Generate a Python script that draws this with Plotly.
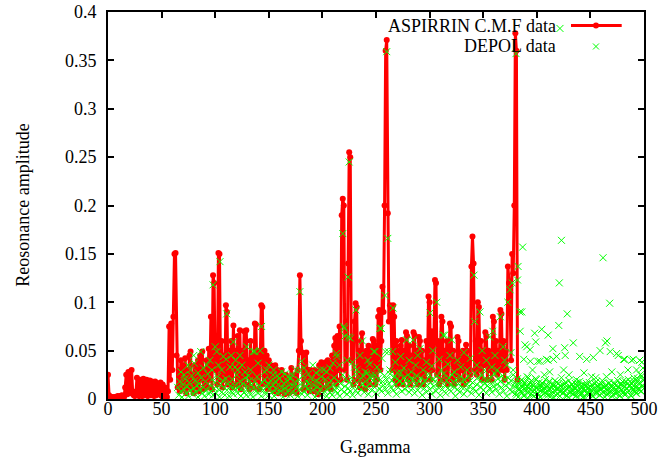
import plotly.graph_objects as go

# ---------------- data ----------------
red_x_start = 0
red_y = [
    0.025, 0.004, 0.002, 0.001, 0.002, 0.001, 0.002, 0.001, 0.002, 0.003,
    0.002, 0.003, 0.002, 0.004, 0.003, 0.002, 0.012, 0.025, 0.005, 0.028,
    0.01, 0.006, 0.03, 0.008, 0.004, 0.003, 0.005, 0.022, 0.004, 0.003,
    0.02, 0.005, 0.003, 0.021, 0.004, 0.006, 0.02, 0.003, 0.005, 0.019,
    0.004, 0.018, 0.006, 0.003, 0.018, 0.004, 0.016, 0.005, 0.012, 0.017,
    0.003, 0.015, 0.002, 0.012, 0.004, 0.002, 0.008, 0.075, 0.02, 0.078,
    0.03, 0.085, 0.15, 0.151, 0.045, 0.012, 0.03, 0.008, 0.04, 0.01,
    0.035, 0.015, 0.042, 0.006, 0.03, 0.012, 0.045, 0.049, 0.01, 0.025,
    0.006, 0.035, 0.03, 0.012, 0.04, 0.008, 0.045, 0.02, 0.049, 0.01,
    0.03, 0.015, 0.04, 0.012, 0.052, 0.02, 0.085, 0.01, 0.128, 0.12,
    0.03, 0.04, 0.015, 0.151, 0.15, 0.02, 0.06, 0.012, 0.045, 0.02,
    0.097, 0.09, 0.015, 0.05, 0.02, 0.06, 0.012, 0.076, 0.03, 0.05,
    0.015, 0.065, 0.02, 0.071, 0.01, 0.05, 0.02, 0.07, 0.015, 0.071,
    0.025, 0.04, 0.01, 0.06, 0.02, 0.045, 0.012, 0.078, 0.077, 0.02,
    0.05, 0.01, 0.04, 0.097, 0.095, 0.015, 0.05, 0.02, 0.045, 0.01,
    0.04, 0.015, 0.035, 0.01, 0.03, 0.008, 0.035, 0.01, 0.03, 0.006,
    0.025, 0.008, 0.03, 0.01, 0.02, 0.005, 0.025, 0.01, 0.022, 0.006,
    0.02, 0.032, 0.008, 0.02, 0.012, 0.025, 0.006, 0.03, 0.05, 0.128,
    0.06, 0.048, 0.01, 0.045, 0.02, 0.048, 0.012, 0.03, 0.008, 0.03,
    0.015, 0.025, 0.008, 0.03, 0.012, 0.028, 0.005, 0.035, 0.015, 0.038,
    0.01, 0.035, 0.02, 0.038, 0.012, 0.04, 0.015, 0.038, 0.01, 0.045,
    0.02, 0.055, 0.063, 0.015, 0.065, 0.03, 0.075, 0.02, 0.19, 0.207,
    0.2, 0.03, 0.08, 0.02, 0.14, 0.255, 0.25, 0.04, 0.06, 0.015,
    0.08, 0.099, 0.095, 0.02, 0.05, 0.012, 0.06, 0.068, 0.02, 0.045,
    0.01, 0.05, 0.02, 0.055, 0.015, 0.05, 0.025, 0.062, 0.06, 0.015,
    0.055, 0.02, 0.085, 0.092, 0.03, 0.06, 0.116, 0.09, 0.2, 0.36,
    0.371, 0.192, 0.08, 0.097, 0.09, 0.03, 0.097, 0.085, 0.02, 0.06,
    0.015, 0.05, 0.02, 0.055, 0.061, 0.015, 0.05, 0.025, 0.069, 0.065,
    0.02, 0.055, 0.015, 0.045, 0.025, 0.069, 0.066, 0.02, 0.05, 0.015,
    0.064, 0.06, 0.025, 0.05, 0.015, 0.04, 0.02, 0.06, 0.03, 0.106,
    0.1, 0.02, 0.07, 0.03, 0.06, 0.123, 0.12, 0.025, 0.06, 0.015,
    0.05, 0.085, 0.08, 0.02, 0.05, 0.025, 0.06, 0.015, 0.045, 0.078,
    0.075, 0.02, 0.05, 0.015, 0.04, 0.025, 0.064, 0.06, 0.02, 0.045,
    0.03, 0.05, 0.015, 0.04, 0.056, 0.05, 0.02, 0.04, 0.025, 0.137,
    0.168, 0.14, 0.03, 0.06, 0.025, 0.1, 0.095, 0.03, 0.06, 0.02,
    0.05, 0.035, 0.069, 0.065, 0.02, 0.05, 0.03, 0.045, 0.02, 0.085,
    0.08, 0.03, 0.06, 0.025, 0.05, 0.03, 0.092, 0.088, 0.03, 0.06,
    0.02, 0.05, 0.03, 0.137, 0.12, 0.11, 0.04, 0.15, 0.13, 0.2,
    0.378, 0.36, 0.02,
]

green_low_x_start = 65
green_low_y = [
    0.012, 0.004, 0.018, 0.008, 0.002, 0.015, 0.01, 0.021, 0.006, 0.013,
    0.003, 0.017, 0.009, 0.024, 0.005, 0.011, 0.019, 0.007, 0.014, 0.002,
    0.016, 0.01, 0.022, 0.006, 0.012, 0.003, 0.018, 0.009, 0.026, 0.005,
    0.014, 0.008, 0.02, 0.004, 0.011, 0.017, 0.006, 0.023, 0.01, 0.002,
    0.015, 0.007, 0.019, 0.012, 0.004, 0.021, 0.009, 0.016, 0.003, 0.013,
    0.008, 0.02, 0.005, 0.014, 0.01, 0.025, 0.006, 0.012, 0.018, 0.003,
    0.011, 0.016, 0.007, 0.022, 0.004, 0.013, 0.009, 0.019, 0.005, 0.015,
    0.002, 0.012, 0.018, 0.008, 0.023, 0.006, 0.014, 0.01, 0.003, 0.017,
    0.009, 0.02, 0.005, 0.013, 0.016, 0.004, 0.011, 0.019, 0.007, 0.014,
    0.003, 0.018, 0.01, 0.006, 0.015, 0.021, 0.008, 0.012, 0.002, 0.016,
    0.011, 0.005, 0.019, 0.009, 0.014, 0.004, 0.022, 0.007, 0.013, 0.017,
    0.006, 0.012, 0.003, 0.02, 0.01, 0.015, 0.005, 0.024, 0.008, 0.013,
    0.018, 0.004, 0.011, 0.016, 0.007, 0.021, 0.009, 0.014, 0.002, 0.019,
    0.012, 0.006, 0.017, 0.01, 0.023, 0.005, 0.013, 0.008, 0.02, 0.003,
    0.015, 0.011, 0.007, 0.019, 0.004, 0.014, 0.022, 0.009, 0.012, 0.006,
    0.018, 0.003, 0.016, 0.01, 0.025, 0.007, 0.013, 0.02, 0.005, 0.011,
    0.017, 0.008, 0.022, 0.004, 0.014, 0.019, 0.009, 0.026, 0.006, 0.012,
    0.02, 0.01, 0.015, 0.024, 0.007, 0.018, 0.012, 0.027, 0.005, 0.016,
    0.022, 0.009, 0.019, 0.013, 0.025, 0.006, 0.017, 0.021, 0.011, 0.028,
    0.008, 0.018, 0.014, 0.024, 0.01, 0.02, 0.006, 0.016, 0.026, 0.012,
    0.019, 0.009, 0.023, 0.015, 0.005, 0.021, 0.012, 0.018, 0.027, 0.008,
    0.016, 0.022, 0.01, 0.019, 0.013, 0.025, 0.007, 0.017, 0.021, 0.011,
    0.02, 0.006, 0.015, 0.024, 0.009, 0.018, 0.013, 0.022, 0.004, 0.016,
    0.011, 0.019, 0.007, 0.014, 0.023, 0.01, 0.017, 0.005, 0.021, 0.013,
    0.018, 0.008, 0.024, 0.012, 0.016, 0.004, 0.02, 0.01, 0.026, 0.014,
    0.006, 0.019, 0.011, 0.022, 0.015, 0.008, 0.025, 0.013, 0.017, 0.003,
    0.021, 0.01, 0.016, 0.007, 0.023, 0.012, 0.018, 0.005, 0.02, 0.014,
    0.009, 0.024, 0.013, 0.019, 0.006, 0.017, 0.011, 0.027, 0.008, 0.015,
    0.022, 0.004, 0.018, 0.012, 0.025, 0.009, 0.016, 0.02, 0.006, 0.014,
    0.019, 0.011, 0.023, 0.007, 0.017, 0.013, 0.026, 0.01, 0.015, 0.021,
    0.005, 0.018, 0.012, 0.024, 0.008, 0.02, 0.014, 0.003, 0.022, 0.016,
    0.01, 0.019, 0.007, 0.025, 0.013, 0.017, 0.004, 0.021, 0.011, 0.015,
    0.008, 0.02, 0.013, 0.003, 0.017, 0.011, 0.023, 0.006, 0.015, 0.01,
    0.019, 0.004, 0.014, 0.009, 0.021, 0.012, 0.006, 0.017, 0.002, 0.013,
    0.016, 0.008, 0.011, 0.02, 0.005, 0.014, 0.01, 0.018, 0.003, 0.012,
    0.007, 0.015, 0.019, 0.004, 0.011, 0.016, 0.008, 0.013, 0.022, 0.006,
    0.014, 0.009, 0.017, 0.003, 0.012, 0.019, 0.007, 0.01, 0.015, 0.005,
    0.011, 0.016, 0.004, 0.013, 0.008, 0.018, 0.006, 0.012, 0.002, 0.015,
    0.009, 0.014, 0.005, 0.011, 0.017, 0.007, 0.012, 0.003, 0.01, 0.016,
    0.006, 0.013, 0.009, 0.015, 0.004, 0.011, 0.019, 0.007, 0.012, 0.014,
    0.005, 0.01, 0.016, 0.008, 0.013, 0.003, 0.011, 0.017, 0.006, 0.014,
    0.009, 0.012, 0.004, 0.015, 0.01, 0.018, 0.007, 0.013, 0.005, 0.011,
    0.016, 0.008, 0.014, 0.003, 0.012, 0.019, 0.009, 0.015, 0.006, 0.021,
    0.011, 0.017, 0.008, 0.024, 0.013, 0.02,
]

# second, offset row of the dense low DEPOL cloud (x = 380.5 ... 499.5)
green_low2_x_start = 380.5
green_low2_y = [
    0.006, 0.014, 0.002, 0.01, 0.018, 0.007, 0.012, 0.004, 0.016, 0.009,
    0.013, 0.001, 0.011, 0.017, 0.005, 0.015, 0.008, 0.003, 0.012, 0.02,
    0.006, 0.01, 0.014, 0.002, 0.009, 0.016, 0.005, 0.011, 0.007, 0.013,
    0.004, 0.018, 0.01, 0.006, 0.015, 0.002, 0.012, 0.008, 0.017, 0.005,
    0.011, 0.003, 0.014, 0.009, 0.006, 0.016, 0.012, 0.004, 0.01, 0.002,
    0.013, 0.007, 0.015, 0.005, 0.009, 0.012, 0.003, 0.017, 0.008, 0.011,
    0.004, 0.014, 0.006, 0.01, 0.002, 0.013, 0.016, 0.007, 0.012, 0.005,
    0.009, 0.015, 0.003, 0.011, 0.008, 0.018, 0.006, 0.013, 0.004, 0.01,
    0.016, 0.007, 0.012, 0.002, 0.014, 0.009, 0.005, 0.017, 0.011, 0.008,
    0.013, 0.004, 0.015, 0.01, 0.006, 0.019, 0.012, 0.003, 0.016, 0.009,
    0.014, 0.005, 0.018, 0.011, 0.007, 0.02, 0.013, 0.004, 0.016, 0.009,
    0.022, 0.012, 0.006, 0.018, 0.01, 0.015, 0.025, 0.008, 0.014, 0.019,
]

green_mid_x = [
    68, 71, 74.6, 77, 80, 80.5, 84, 86.5, 89, 92, 95, 97, 98, 100, 101.5, 103,
    104.5, 106, 107.6, 110.2, 110.7, 113.8, 115, 117, 118.5, 119, 121, 123,
    125, 127.8, 129.4, 131, 133, 135.5, 137, 140, 142, 143.3, 146, 148, 150,
    154, 154.5, 158, 162, 165, 168, 172, 175, 178.7, 179, 180.6, 183, 187,
    191, 194, 198, 201, 204, 207, 210, 213, 213.5, 216, 219, 220, 220.5, 221,
    223, 224, 224.3, 225, 226, 228, 230, 231.3, 232, 235, 237.3, 240, 242.5,
    244, 246, 248, 249, 251, 253.7, 255, 255.5, 258.4, 258.6, 260, 261,
    261.5, 263, 265.6, 266, 268, 270, 273, 276, 278.6, 281, 283, 284.7, 287,
    289, 291, 294, 297, 299, 300.4, 302, 303, 306.6, 309, 311, 312.7, 314,
    317, 319, 320.6, 323, 326, 329, 332, 335, 338, 341.4, 342, 344, 347, 349,
    351, 353, 356, 358, 359, 361, 363, 366, 368.6, 370, 372, 373, 375, 376,
    377, 378, 380.6, 382, 382.5,
    384.3, 384.5, 386, 386.8, 387.8, 389, 390.6, 392, 393.7, 394, 396, 398,
    399, 401, 403, 404.6, 407, 409, 410.5, 410.6, 412, 415, 415.5, 418.5,
    420.5, 421, 421.6, 423, 425, 426, 426.5, 428.4, 430, 434, 437, 440, 444,
    446.5, 451, 452.7, 455, 459, 461.8, 464, 465, 465.5, 468, 468.5, 470,
    474.5, 476, 478, 481, 482, 485, 488.5, 490, 493, 496, 498, 499,
]
green_mid_y = [
    0.028, 0.025, 0.035, 0.03, 0.045, 0.037, 0.027, 0.049, 0.032, 0.035, 0.04,
    0.03, 0.118, 0.054, 0.049, 0.035, 0.142, 0.03, 0.044, 0.041, 0.088, 0.033,
    0.045, 0.059, 0.033, 0.04, 0.03, 0.045, 0.035, 0.028, 0.054, 0.024, 0.03,
    0.049, 0.049, 0.037, 0.05, 0.075, 0.028, 0.03, 0.035, 0.025, 0.03, 0.024,
    0.028, 0.026, 0.023, 0.025, 0.03, 0.03, 0.111, 0.039, 0.032, 0.026, 0.035,
    0.027, 0.03, 0.03, 0.028, 0.032, 0.037, 0.047, 0.044, 0.035, 0.171, 0.075,
    0.073, 0.065, 0.04, 0.126, 0.064, 0.245, 0.063, 0.038, 0.033, 0.092, 0.03,
    0.045, 0.06, 0.028, 0.04, 0.036, 0.025, 0.049, 0.049, 0.033, 0.073, 0.073,
    0.042, 0.107, 0.049, 0.359, 0.166, 0.049, 0.03, 0.049, 0.094, 0.038,
    0.027, 0.044, 0.032, 0.061, 0.04, 0.028, 0.061, 0.035, 0.045, 0.052, 0.03,
    0.038, 0.026, 0.089, 0.034, 0.05, 0.1, 0.041, 0.03, 0.066, 0.066, 0.036,
    0.045, 0.061, 0.028, 0.04, 0.033, 0.048, 0.03, 0.042, 0.128, 0.08, 0.035,
    0.09, 0.05, 0.03, 0.04, 0.064, 0.033, 0.07, 0.045, 0.03, 0.085, 0.054,
    0.04, 0.035, 0.1, 0.113, 0.048, 0.12, 0.03, 0.357, 0.123, 0.137,
    0.09, 0.07, 0.09, 0.157, 0.041, 0.056, 0.054, 0.022, 0.051, 0.039, 0.03,
    0.068, 0.059, 0.039, 0.039, 0.072, 0.025, 0.041, 0.04, 0.066, 0.028,
    0.052, 0.041, 0.044, 0.076, 0.12, 0.383, 0.164, 0.03, 0.053, 0.045, 0.088,
    0.025, 0.058, 0.02, 0.044, 0.027, 0.041, 0.023, 0.043, 0.022, 0.05, 0.146,
    0.058, 0.023, 0.06, 0.099, 0.049, 0.028, 0.047, 0.045, 0.025, 0.041,
    0.041, 0.03, 0.04, 0.041, 0.03, 0.04, 0.038, 0.032,
]

y_tick_vals = [0, 0.05, 0.1, 0.15, 0.2, 0.25, 0.3, 0.35, 0.4]
y_tick_text = ["0", "0.05", "0.1", "0.15", "0.2", "0.25", "0.3", "0.35", "0.4"]
x_tick_vals = [0, 50, 100, 150, 200, 250, 300, 350, 400, 450, 500]

series_names = ["ASPIRRIN C.M.F data", "DEPOL data"]
RED = "#ff0000"
GREEN = "#00ff00"
FONT = "Liberation Serif, Times New Roman, serif"
FS = 18

red_x = [red_x_start + i for i in range(len(red_y))]
green_low_x = [green_low_x_start + i for i in range(len(green_low_y))]
green_low2_x = [green_low2_x_start + i for i in range(len(green_low2_y))]

fig = go.Figure()
fig.add_trace(go.Scatter(
    x=red_x, y=red_y, mode="lines+markers", name=series_names[0],
    line=dict(color=RED, width=3),
    marker=dict(color=RED, size=6, symbol="circle"),
    showlegend=False,
))
fig.add_trace(go.Scatter(
    x=green_low_x + green_low2_x + green_mid_x,
    y=green_low_y + green_low2_y + green_mid_y, mode="markers",
    name=series_names[1],
    marker=dict(symbol="x-thin", size=7, color=GREEN,
                line=dict(color=GREEN, width=1)),
    showlegend=False,
))

axis_common = dict(
    showline=True, linecolor="black", linewidth=2, mirror="allticks",
    ticks="inside", ticklen=6, tickwidth=1.5, tickcolor="black",
    showgrid=False, zeroline=False, automargin=False,
    tickfont=dict(family=FONT, size=FS, color="black"),
)

fig.update_layout(
    width=661, height=464,
    margin=dict(l=108, r=17, t=12, b=65, autoexpand=False),
    paper_bgcolor="white", plot_bgcolor="white",
    xaxis=dict(range=[0, 500], tickvals=x_tick_vals, ticklabelstandoff=-8,
               **axis_common),
    yaxis=dict(range=[0, 0.4], tickvals=y_tick_vals, ticktext=y_tick_text,
               ticklabelstandoff=6, **axis_common),
    font=dict(family=FONT, size=FS, color="black"),
)

# axis titles
fig.add_annotation(text="G.gamma", xref="paper", yref="paper", x=0.498, y=-0.124,
                   xanchor="center", yanchor="middle", showarrow=False,
                   font=dict(family=FONT, size=FS))
fig.add_annotation(text="Reosonance amplitude", xref="paper", yref="paper",
                   x=-0.160, y=0.5, xanchor="center", yanchor="middle",
                   textangle=-90, showarrow=False, font=dict(family=FONT, size=FS))

# gnuplot-style key (text right aligned, sample on the right)
key_text_x = 0.838
key_rows_y = [0.9651, 0.9109]
for name, ky in zip(series_names, key_rows_y):
    fig.add_annotation(text=name, xref="paper", yref="paper",
                       x=key_text_x, y=ky, xanchor="right", yanchor="middle",
                       height=20, borderpad=0,
                       showarrow=False, font=dict(family=FONT, size=FS))
fig.add_shape(type="line", xref="paper", yref="paper", x0=0.8638, x1=0.9584,
              y0=key_rows_y[0], y1=key_rows_y[0], line=dict(color=RED, width=3))
fig.add_shape(type="circle", xref="paper", yref="paper", xsizemode="pixel",
              ysizemode="pixel", xanchor=0.9104, yanchor=key_rows_y[0],
              x0=-3, x1=3, y0=-3, y1=3, fillcolor=RED, line=dict(color=RED, width=0))
fig.add_shape(type="line", xref="paper", yref="paper", xsizemode="pixel",
              ysizemode="pixel", xanchor=0.9104, yanchor=key_rows_y[1],
              x0=-3, x1=3, y0=-3, y1=3, line=dict(color=GREEN, width=1))
fig.add_shape(type="line", xref="paper", yref="paper", xsizemode="pixel",
              ysizemode="pixel", xanchor=0.9104, yanchor=key_rows_y[1],
              x0=-3, x1=3, y0=3, y1=-3, line=dict(color=GREEN, width=1))

fig.write_html("out.html")
